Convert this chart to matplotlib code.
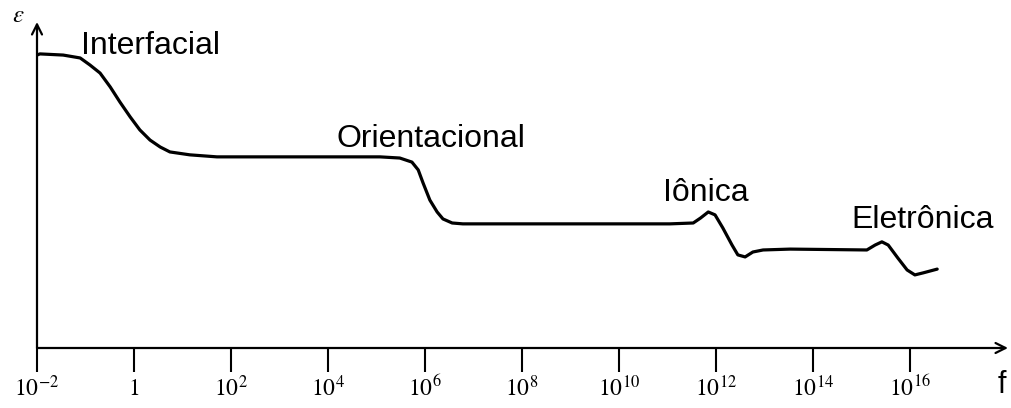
import matplotlib.pyplot as plt

plt.rcParams['mathtext.fontset'] = 'stix'

# curve: log10(f) and permittivity (arbitrary units)
log_f = [-2.0, -1.94, -1.46, -1.11, -0.91, -0.70, -0.49, -0.29, -0.08, 0.12,
         0.33, 0.54, 0.74, 1.15, 1.71, 2.39, 5.07, 5.48, 5.73, 5.86,
         5.96, 6.10, 6.25, 6.37, 6.56, 6.78, 11.05, 11.53, 11.68, 11.84,
         11.98, 12.14, 12.33, 12.45, 12.60, 12.76, 12.97, 13.53, 15.11, 15.28,
         15.42, 15.55, 15.75, 15.94, 16.10, 16.27, 16.56]
eps = [10.10, 10.14, 10.10, 10.00, 9.76, 9.48, 9.00, 8.48, 7.97, 7.52,
       7.17, 6.93, 6.76, 6.66, 6.59, 6.59, 6.59, 6.55, 6.41, 6.14,
       5.69, 5.10, 4.69, 4.45, 4.31, 4.28, 4.28, 4.31, 4.48, 4.69,
       4.59, 4.14, 3.55, 3.21, 3.14, 3.31, 3.38, 3.41, 3.38, 3.55,
       3.66, 3.55, 3.10, 2.69, 2.52, 2.59, 2.72]

tick_exp = [-2, 0, 2, 4, 6, 8, 10, 12, 14, 16]
tick_labels = ['$10^{-2}$', '$1$', '$10^{2}$', '$10^{4}$', '$10^{6}$',
               '$10^{8}$', '$10^{10}$', '$10^{12}$', '$10^{14}$', '$10^{16}$']

mechanisms = ['Interfacial', 'Orientacional', 'Iônica', 'Eletrônica']
label_pos = [(-1.1, 10.4), (4.17, 7.2), (10.9, 5.35), (14.8, 4.4)]

fig = plt.figure(figsize=(10.12, 4.08), dpi=100)
ax = fig.add_axes([37 / 1012, 60 / 408, 971 / 1012, 326 / 408])
ax.set_xlim(-2, 18.02)
ax.set_ylim(0, 11.24)

ax.plot(log_f, eps, color='black', lw=2.3, solid_capstyle='round',
        solid_joinstyle='round')

for s in ax.spines.values():
    s.set_visible(False)

# axes with arrow heads
ax.annotate('', xy=(1, 0), xytext=(0, 0), xycoords='axes fraction',
            arrowprops=dict(arrowstyle='->', lw=1.6, color='black',
                            mutation_scale=18, shrinkA=0, shrinkB=0))
ax.annotate('', xy=(0, 1), xytext=(0, 0), xycoords='axes fraction',
            arrowprops=dict(arrowstyle='->', lw=1.6, color='black',
                            mutation_scale=18, shrinkA=0, shrinkB=0))

ax.set_xticks(tick_exp)
ax.set_xticklabels(tick_labels, fontsize=17)
ax.set_yticks([])
ax.tick_params(axis='x', direction='out', length=17, width=1.5, pad=3)

for name, (x, y) in zip(mechanisms, label_pos):
    ax.text(x, y, name, fontsize=23, family='Liberation Sans',
            ha='left', va='center')

fig.text(18 / 1012, 1 - 15 / 408, r'$\varepsilon$', fontsize=18,
         ha='center', va='center')
fig.text(1002 / 1012, 1 - 385 / 408, 'f', fontsize=22, family='Liberation Sans',
         ha='center', va='center')

fig.savefig('out.png', dpi=100, facecolor='white')
